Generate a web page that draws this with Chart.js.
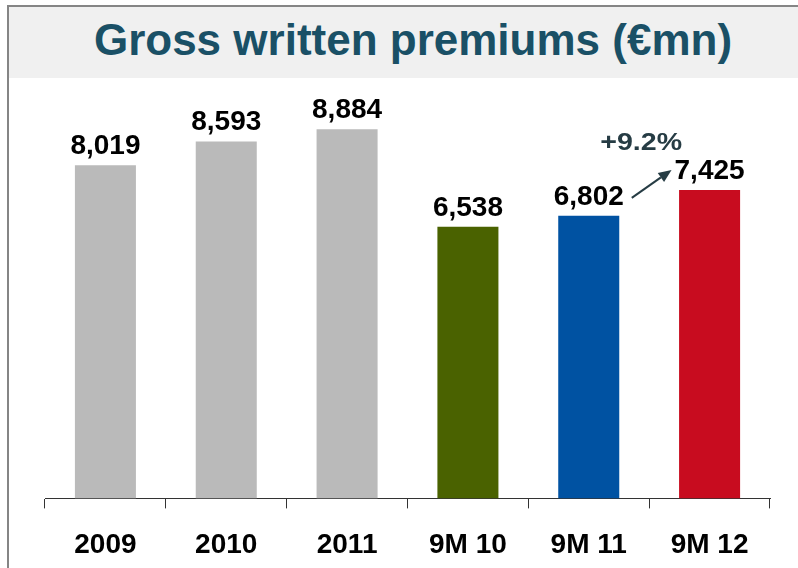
<!DOCTYPE html>
<html>
<head>
<meta charset="utf-8">
<script src="https://cdn.jsdelivr.net/npm/chart.js@4.4.1/dist/chart.umd.min.js"></script>
<style>
  html, body { margin: 0; padding: 0; background: #fff; }
  body { width: 798px; height: 568px; position: relative; overflow: hidden; }
  .frame {
    position: absolute; left: 7px; top: 5px; right: 0; bottom: 0;
    border-left: 2px solid #858585; border-top: 2px solid #858585;
  }
  .band {
    position: absolute; left: 9px; top: 7px; right: 0; height: 71px;
    background: #f0f0f0;
  }
  .title {
    position: absolute; left: 0; top: 15px; width: 826px; height: 72px;
    line-height: 72px; text-align: center;
    font: bold 44px "Liberation Sans", Arial, sans-serif; color: #1a5066;
  }
  canvas { position: absolute; left: 0; top: 0; }
</style>
</head>
<body>
<div class="frame"></div>
<div class="band"></div>
<div class="title">Gross written premiums (€mn)</div>
<canvas id="gwp-chart" width="798" height="568"></canvas>
<script>
// Gross written premiums, €mn
const categories = ['2009', '2010', '2011', '9M 10', '9M 11', '9M 12'];
const premiums = [8019, 8593, 8884, 6538, 6802, 7425];
const barColors = ['#bababa', '#bababa', '#bababa', '#4a6200', '#0052a2', '#c80c1f'];

const FONT = "'Liberation Sans', Arial, sans-serif";

const fmt = v => v.toLocaleString('en-US');

// value labels above bars + growth arrow between the last two bars
const barLabels = {
    id: 'barLabels',
    afterDatasetsDraw(chart) {
        const ctx = chart.ctx;
        const bars = chart.getDatasetMeta(0).data;
        ctx.save();
        ctx.font = 'bold 28px ' + FONT;
        ctx.fillStyle = '#000';
        ctx.textAlign = 'center';
        ctx.textBaseline = 'alphabetic';
        bars.forEach((bar, i) => {
            ctx.fillText(fmt(premiums[i]), bar.x, bar.y - 11);
        });

        // arrow from 9M 11 label to 9M 12 label
        const a = bars[4], b = bars[5];
        const wa = ctx.measureText(fmt(premiums[4])).width;
        const wb = ctx.measureText(fmt(premiums[5])).width;
        const x1 = a.x + wa / 2 + 8, y1 = a.y - 21 + 3;
        const x2 = b.x - wb / 2 - 3, y2 = b.y - 21 + 1;
        const ang = Math.atan2(y2 - y1, x2 - x1);
        const head = 13, half = 5.5;
        const bx = x2 - head * Math.cos(ang), by = y2 - head * Math.sin(ang);
        ctx.strokeStyle = '#263c44';
        ctx.fillStyle = '#263c44';
        ctx.lineWidth = 2;
        ctx.beginPath();
        ctx.moveTo(x1, y1);
        ctx.lineTo(bx, by);
        ctx.stroke();
        ctx.beginPath();
        ctx.moveTo(x2, y2);
        ctx.lineTo(bx + half * Math.sin(ang), by - half * Math.cos(ang));
        ctx.lineTo(bx - half * Math.sin(ang), by + half * Math.cos(ang));
        ctx.closePath();
        ctx.fill();

        // growth figure (wide bold face)
        const growth = (premiums[5] / premiums[4] - 1) * 100;
        ctx.font = 'bold 24px ' + FONT;
        ctx.translate((a.x + b.x) / 2 - 8, b.y - 40);
        ctx.scale(1.19, 1);
        ctx.fillText('+' + growth.toFixed(1) + '%', 0, 0);
        ctx.restore();
    }
};

new Chart(document.getElementById('gwp-chart'), {
    type: 'bar',
    data: {
        labels: categories,
        datasets: [{
            data: premiums,
            backgroundColor: barColors,
            borderWidth: 0,
            categoryPercentage: 1,
            barPercentage: 0.505
        }]
    },
    options: {
        responsive: false,
        animation: false,
        layout: {
            padding: { left: 45, right: 28, top: 83, bottom: -14 }
        },
        plugins: {
            legend: { display: false },
            tooltip: { enabled: false }
        },
        scales: {
            x: {
                grid: {
                    offset: true,
                    drawOnChartArea: false,
                    drawTicks: true,
                    tickLength: 10,
                    color: '#333'
                },
                border: { display: true, color: '#333', width: 1 },
                ticks: {
                    color: '#000',
                    padding: 20,
                    font: { family: FONT, size: 28, weight: 'bold' }
                }
            },
            y: {
                display: false,
                min: 0,
                max: 10000
            }
        }
    },
    plugins: [barLabels]
});
</script>
</body>
</html>
